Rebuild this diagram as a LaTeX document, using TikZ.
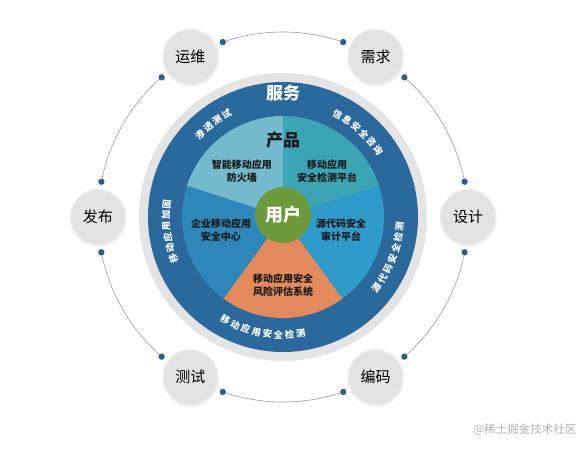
\documentclass[tikz,border=0pt]{standalone}
\usepackage{fontspec}
\setmainfont{Noto Sans CJK SC}
\usetikzlibrary{shadows}
\definecolor{ringblue}{HTML}{2B689C}
\definecolor{ringgray}{HTML}{E4E4E4}
\definecolor{wA}{HTML}{74BACD}
\definecolor{wB}{HTML}{3BA5B6}
\definecolor{wC}{HTML}{2F9BCA}
\definecolor{wD}{HTML}{2D87BA}
\definecolor{wE}{HTML}{E38A5C}
\definecolor{ugreen}{HTML}{6E9A3E}
\definecolor{circfill}{HTML}{E3E3E3}
\definecolor{dotblue}{HTML}{2B5F8C}
\definecolor{arcgray}{HTML}{9A9A9A}
\definecolor{txtdark}{HTML}{1A1A1A}
\newcommand\cwtext[5]{% #1 name, #2 center angle, #3 n, #4 radius, #5 chars
  \foreach \ch [count=\i from 0] in {#5} {
    \pgfmathsetmacro\ang{#2+((#3-1)/2-\i)*5.4}
    \node[ringch, rotate=\ang-90] (#1-\i) at (\ang:#4) {\ch};
  }}
\newcommand\ccwtext[5]{%
  \foreach \ch [count=\i from 0] in {#5} {
    \pgfmathsetmacro\ang{#2-((#3-1)/2-\i)*5.4}
    \node[ringch, rotate=\ang+90] (#1-\i) at (\ang:#4) {\ch};
  }}
\begin{document}
\begin{tikzpicture}[x=1pt,y=1pt,
  outerc/.style={circle, minimum size=55pt, inner sep=0pt, fill=circfill,
    draw=white!93!black, line width=1.2pt,
    circular drop shadow={shadow xshift=0pt, shadow yshift=-1pt, shadow scale=1.06, opacity=0.25},
    font=\fontsize{15}{15}\selectfont, text=black},
  dotc/.style={circle, fill=dotblue, inner sep=0pt, minimum size=6pt},
  arcline/.style={draw=arcgray, line width=0.6pt},
  wedgetxt/.style={font=\bfseries\fontsize{10}{12.5}\selectfont, align=center, text=txtdark, inner sep=0pt},
  ringch/.style={font=\bfseries\fontsize{9.3}{9.3}\selectfont, text=white, inner sep=0pt},
  bigtxt/.style={font=\bfseries\fontsize{17}{17}\selectfont, inner sep=0pt}]
\useasboundingbox (-283,-232) rectangle (300,217);
\fill[white] (-283,-232) rectangle (300,217);

% connecting arcs and dots
\foreach \a in {0,60,120,180,240,300} {
  \pgfmathsetmacro\b{\a+11}
  \pgfmathsetmacro\e{\a+49}
  \node[dotc] (da\a) at (\b:185) {};
  \node[dotc] (db\a) at (\e:185) {};
  \draw[arcline] (da\a.center) arc[start angle=\b, end angle=\e, radius=185];
  \node[dotc] at (da\a) {};
  \node[dotc] at (db\a) {};
}

% outer circles
\node[outerc] (yunwei) at (120:185) {运维};
\node[outerc] (xuqiu) at (60:185) {需求};
\node[outerc] (sheji) at (0:185) {设计};
\node[outerc] (bianma) at (300:185) {编码};
\node[outerc] (ceshi) at (240:185) {测试};
\node[outerc] (fabu) at (180:185) {发布};

% rings
\fill[ringgray] (0,0) circle (144);
\fill[ringblue] (0,0) circle (135);

% pie wedges
\fill[wA] (0,0) -- (90:101) arc[start angle=90, end angle=162, radius=101] -- cycle;
\fill[wB] (0,0) -- (18:101) arc[start angle=18, end angle=90, radius=101] -- cycle;
\fill[wC] (0,0) -- (-54:101) arc[start angle=-54, end angle=18, radius=101] -- cycle;
\fill[wD] (0,0) -- (162:101) arc[start angle=162, end angle=234, radius=101] -- cycle;
\fill[wE] (0,0) -- (234:101) arc[start angle=234, end angle=306, radius=101] -- cycle;

% center
\node[circle, fill=ugreen, minimum size=56pt, inner sep=0pt, text=white,
  font=\bfseries\fontsize{18}{18}\selectfont] (user) at (0,2) {用户};

% titles
\node[bigtxt, text=white] (fuwu) at (0,124) {服务};
\node[bigtxt, text=txtdark] (chanpin) at (0,77) {产品};

% wedge texts
\node[wedgetxt] (pA) at (-41,46) {智能移动应用\\防火墙};
\node[wedgetxt] (pB) at (44,46) {移动应用\\安全检测平台};
\node[wedgetxt] (pC) at (58,-13) {源代码安全\\审计平台};
\node[wedgetxt] (pD) at (-62,-13) {企业移动应用\\安全中心};
\node[wedgetxt] (pE) at (0,-68) {移动应用安全\\风险评估系统};

% ring texts
\cwtext{st}{127}{4}{117}{渗,透,测,试}
\cwtext{xx}{48.4}{6}{116}{信,息,安,全,咨,询}
\cwtext{jg}{187.2}{6}{117}{移,动,应,用,加,固}
\ccwtext{yd}{-20.9}{7}{117}{源,代,码,安,全,检,测}
\ccwtext{yy}{259.7}{8}{118}{移,动,应,用,安,全,检,测}

% watermark
\node[text=black!30, font=\fontsize{11.5}{11.5}\selectfont, inner sep=0pt] (wm) at (242,-213) {@稀土掘金技术社区};
\end{tikzpicture}
\end{document}
